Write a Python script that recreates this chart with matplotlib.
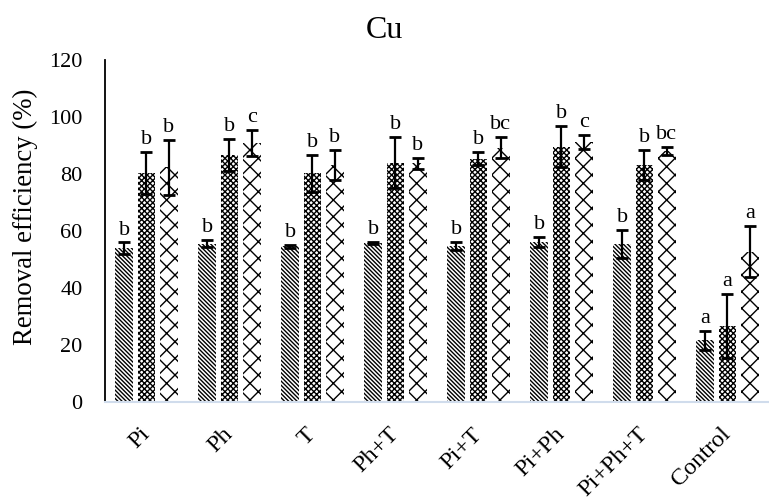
import numpy as np
import matplotlib.pyplot as plt

plt.rcParams['font.family'] = ['Liberation Serif', 'DejaVu Serif']
plt.rcParams['hatch.linewidth'] = 1.0

categories = ['Pi', 'Ph', 'T', 'Ph+T', 'Pi+T', 'Pi+Ph', 'Pi+Ph+T', 'Control']

# three series per treatment
s1_mean = [54.0, 55.6, 54.7, 55.8, 54.7, 56.1, 55.4, 21.7]
s1_err = [2.0, 1.2, 0.5, 0.3, 1.4, 1.8, 4.9, 3.3]
s2_mean = [80.4, 86.6, 80.2, 84.0, 85.4, 89.6, 83.2, 26.8]
s2_err = [7.4, 5.6, 6.5, 9.0, 2.3, 7.2, 5.3, 11.2]
s3_mean = [82.3, 91.0, 83.2, 83.7, 89.2, 91.3, 88.0, 52.7]
s3_err = [9.8, 4.6, 5.3, 2.0, 3.7, 2.5, 1.4, 9.0]

s1_letters = ['b', 'b', 'b', 'b', 'b', 'b', 'b', 'a']
s2_letters = ['b', 'b', 'b', 'b', 'b', 'b', 'b', 'a']
s3_letters = ['b', 'c', 'b', 'b', 'bc', 'c', 'bc', 'a']


def main():
    fig = plt.figure(figsize=(7.69, 5.03), dpi=100)
    ax = fig.add_axes([0.1365, 0.2008, 0.8635, 0.6799])

    x = np.arange(len(categories))
    w = 0.21
    step = 0.27
    series = [(s1_mean, s1_err, s1_letters, '\\' * 8),
              (s2_mean, s2_err, s2_letters, 'x' * 6),
              (s3_mean, s3_err, s3_letters, 'xx')]
    for k, (m, e, lab, h) in enumerate(series):
        xs = x + (k - 1) * step
        ax.bar(xs, m, width=w, color='white', edgecolor='black', linewidth=0, hatch=h)
        ax.errorbar(xs, m, yerr=e, fmt='none', ecolor='black', elinewidth=1.6,
                    capsize=4.5, capthick=2)
        for xi, mi, ei, t in zip(xs, m, e, lab):
            ax.annotate(t, (xi, mi + ei), xytext=(0, 2), textcoords='offset points',
                        ha='center', va='bottom', fontsize=16)

    ax.set_xlim(-0.5, len(categories) - 0.5)
    ax.set_ylim(0, 120)
    ax.set_yticks(np.arange(0, 121, 20))
    ax.set_xticks(x)
    ax.set_xticklabels(categories, rotation=45, ha='right', va='center')
    ax.tick_params(axis='both', length=0, labelsize=16)
    ax.tick_params(axis='x', pad=21, labelsize=17.5)
    ax.tick_params(axis='y', pad=16)
    for lab in ax.get_xticklabels():
        lab.set_rotation_mode('anchor')
    for s in ['top', 'right']:
        ax.spines[s].set_visible(False)
    ax.spines['left'].set_color('black')
    ax.spines['left'].set_linewidth(1.3)
    ax.spines['bottom'].set_color('#d0dcec')
    ax.spines['bottom'].set_linewidth(1.5)

    ax.set_ylabel('Removal efficiency (%)', fontsize=19.3)
    ax.yaxis.set_label_coords(-0.101, 0.541)
    fig.text(0.5, 0.94, 'Cu', ha='center', va='center', fontsize=23)

    fig.savefig('out.png', dpi=100)
    plt.close('all')


if __name__ == "__main__":
    main()
